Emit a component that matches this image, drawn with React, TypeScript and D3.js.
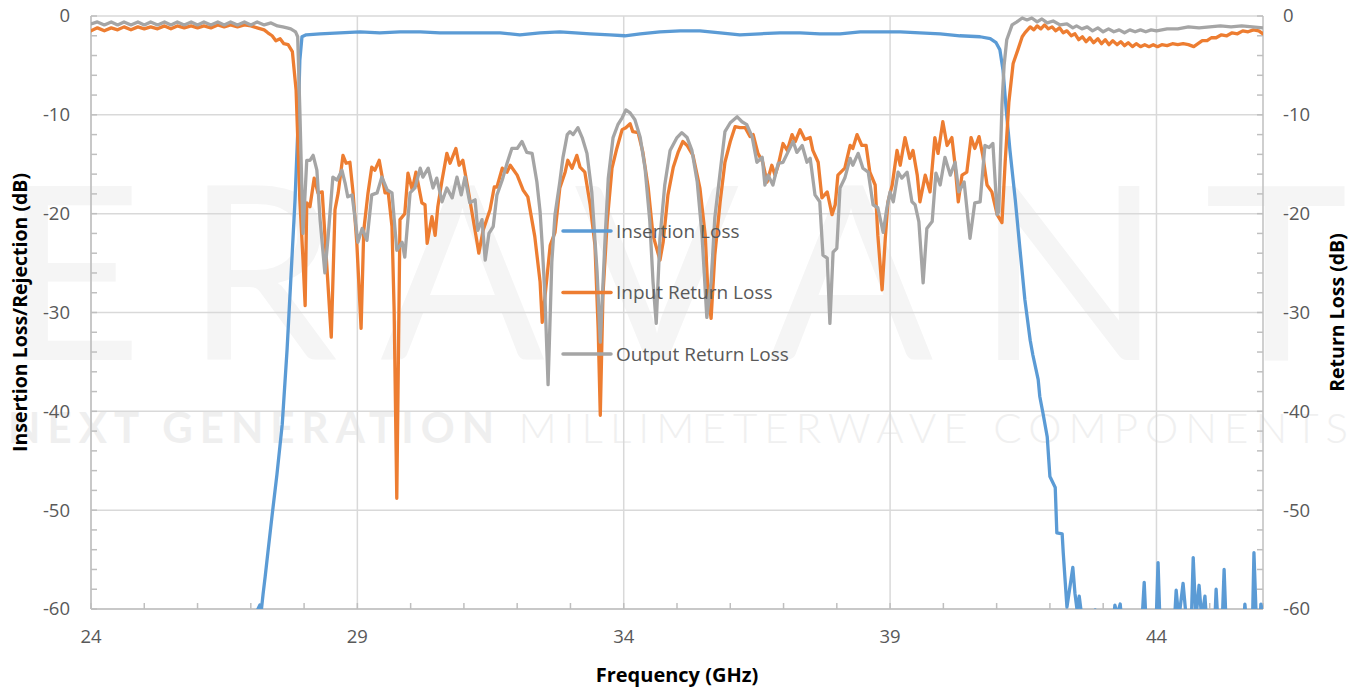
import React from "react";
import * as d3 from "d3";

// frequency (GHz), dB
const insertionLoss: [number, number][] = [
  [27.08, -60.6], [27.17, -59.6], [27.19, -60.5], [27.23, -58.5], [27.27, -56.7], [27.32, -54.3],
  [27.4, -50.5], [27.49, -46.4], [27.59, -41.3], [27.68, -33.8], [27.77, -24.7], [27.83, -18.6],
  [27.89, -10.5], [27.92, -4.5], [27.96, -2.1], [28.04, -1.9], [28.3, -1.8], [28.67, -1.7],
  [29.05, -1.6], [29.42, -1.7], [29.8, -1.6], [30.18, -1.6], [30.55, -1.7], [30.93, -1.7],
  [31.3, -1.7], [31.68, -1.7], [32.05, -1.9], [32.43, -1.7], [32.8, -1.6], [33.09, -1.7],
  [33.37, -1.8], [33.74, -1.9], [34.02, -2.0], [34.31, -1.8], [34.68, -1.6], [35.06, -1.5],
  [35.43, -1.5], [35.81, -1.7], [36.18, -1.9], [36.56, -1.8], [36.93, -1.7], [37.31, -1.7],
  [37.68, -1.8], [38.06, -1.8], [38.44, -1.6], [38.81, -1.6], [39.19, -1.6], [39.56, -1.7],
  [39.94, -1.8], [40.31, -2.0], [40.69, -2.1], [40.88, -2.3], [40.99, -2.7], [41.06, -3.4],
  [41.12, -5.5], [41.18, -9.5], [41.25, -13.6], [41.35, -18.6], [41.44, -23.7], [41.53, -28.7],
  [41.63, -32.8], [41.68, -34.3], [41.78, -36.8], [41.81, -38.5], [41.87, -40.2], [41.95, -42.6],
  [42.0, -46.6], [42.1, -47.7], [42.13, -52.3], [42.23, -52.4], [42.25, -54.3], [42.32, -59.8],
  [42.43, -55.8], [42.47, -58.4], [42.51, -60.1], [42.55, -58.7], [42.59, -60.4], [42.66, -62],
  [42.82, -62], [42.85, -60.1], [42.88, -62], [43.18, -62], [43.22, -59.6], [43.26, -60.6],
  [43.32, -59.5], [43.36, -62], [43.72, -62], [43.77, -57.3], [43.81, -62], [43.99, -62],
  [44.03, -55.3], [44.07, -62], [44.33, -62], [44.37, -58.1], [44.42, -61], [44.5, -57.4],
  [44.56, -61], [44.65, -62], [44.69, -54.8], [44.74, -61], [44.8, -57.6], [44.85, -61],
  [44.91, -58.7], [44.95, -62], [45.09, -62], [45.12, -58.0], [45.16, -62], [45.23, -62],
  [45.27, -56.0], [45.31, -62], [45.5, -62], [45.53, -60.2], [45.56, -62], [45.63, -62],
  [45.66, -59.5], [45.7, -62], [45.8, -62], [45.83, -54.3], [45.88, -62], [45.94, -62],
  [45.96, -59.5], [46.0, -60.5],
];

const inputReturnLoss: [number, number][] = [
  [24.0, -1.5], [24.12, -1.2], [24.25, -1.5], [24.38, -1.2], [24.5, -1.4], [24.62, -1.1],
  [24.75, -1.4], [24.88, -1.1], [25.0, -1.3], [25.12, -1.1], [25.25, -1.3], [25.38, -1.0],
  [25.5, -1.3], [25.62, -1.0], [25.75, -1.2], [25.88, -1.0], [26.0, -1.2], [26.12, -1.0],
  [26.25, -1.2], [26.38, -0.9], [26.5, -1.1], [26.62, -0.9], [26.75, -1.1], [26.88, -0.9],
  [27.0, -1.0], [27.12, -1.2], [27.25, -1.4], [27.32, -1.7], [27.4, -2.0], [27.47, -2.5],
  [27.55, -2.3], [27.62, -2.8], [27.7, -2.9], [27.78, -3.6], [27.85, -7.5], [27.92, -18.6],
  [27.98, -24.7], [28.02, -29.3], [28.05, -18.9], [28.11, -19.3], [28.19, -16.4], [28.26, -17.9],
  [28.34, -17.8], [28.51, -32.5], [28.58, -19.6], [28.64, -17.9], [28.73, -14.1], [28.79, -14.9],
  [28.86, -14.8], [28.92, -17.9], [28.99, -23.0], [29.07, -31.6], [29.12, -21.7], [29.2, -17.9],
  [29.27, -15.3], [29.33, -15.6], [29.41, -14.6], [29.52, -17.9], [29.58, -17.9], [29.65, -21.3],
  [29.69, -29.7], [29.74, -48.8], [29.8, -20.6], [29.89, -20.0], [29.95, -15.9], [30.03, -17.6],
  [30.1, -15.8], [30.21, -18.9], [30.27, -19.1], [30.31, -23.0], [30.4, -20.3], [30.46, -22.2],
  [30.51, -19.3], [30.59, -16.6], [30.68, -13.9], [30.74, -14.9], [30.85, -13.4], [30.91, -15.1],
  [30.98, -14.6], [31.08, -17.6], [31.25, -23.0], [31.28, -24.0], [31.36, -21.7], [31.49, -19.6],
  [31.57, -17.3], [31.62, -17.3], [31.72, -15.4], [31.81, -15.8], [31.87, -15.1], [32.0, -16.1],
  [32.11, -17.6], [32.2, -18.3], [32.33, -22.3], [32.43, -26.9], [32.47, -31.0], [32.52, -28.5],
  [32.62, -23.2], [32.71, -21.9], [32.8, -17.4], [32.9, -15.8], [32.95, -14.6], [33.03, -15.4],
  [33.12, -14.1], [33.18, -15.3], [33.27, -15.8], [33.37, -19.1], [33.46, -23.2], [33.52, -31.6],
  [33.56, -40.4], [33.61, -28.2], [33.69, -20.8], [33.78, -15.4], [33.87, -13.4], [33.97, -11.5],
  [34.04, -11.3], [34.12, -10.9], [34.17, -11.7], [34.27, -11.8], [34.36, -13.8], [34.46, -17.4],
  [34.55, -22.2], [34.68, -24.7], [34.74, -22.9], [34.83, -18.1], [34.93, -15.3], [35.02, -13.8],
  [35.11, -12.7], [35.19, -13.1], [35.3, -14.1], [35.43, -17.4], [35.53, -22.2], [35.58, -27.9],
  [35.64, -30.6], [35.71, -24.2], [35.81, -18.8], [35.9, -14.8], [36.0, -12.7], [36.09, -11.2],
  [36.18, -11.3], [36.28, -11.3], [36.37, -12.2], [36.43, -12.0], [36.52, -13.9], [36.61, -14.8],
  [36.69, -16.8], [36.78, -15.1], [36.84, -16.1], [36.9, -15.1], [36.99, -12.9], [37.07, -13.6],
  [37.16, -12.0], [37.22, -12.7], [37.31, -11.5], [37.4, -12.5], [37.5, -12.3], [37.55, -13.6],
  [37.65, -14.8], [37.72, -18.4], [37.82, -17.8], [37.91, -20.1], [37.97, -19.1], [38.02, -16.1],
  [38.15, -15.4], [38.25, -13.1], [38.3, -13.4], [38.38, -12.0], [38.47, -13.1], [38.55, -13.1],
  [38.62, -15.8], [38.72, -17.1], [38.77, -22.2], [38.85, -27.7], [38.91, -22.5], [38.96, -18.8],
  [39.04, -17.1], [39.13, -13.6], [39.19, -15.1], [39.28, -12.3], [39.37, -14.4], [39.43, -13.6],
  [39.51, -16.1], [39.56, -18.8], [39.66, -16.1], [39.75, -17.8], [39.84, -12.3], [39.9, -13.9],
  [39.99, -10.7], [40.07, -13.1], [40.16, -12.3], [40.22, -15.1], [40.28, -18.8], [40.35, -16.1],
  [40.44, -15.8], [40.52, -12.3], [40.59, -13.4], [40.67, -12.2], [40.74, -14.1], [40.82, -17.1],
  [40.91, -17.8], [41.01, -20.1], [41.1, -20.9], [41.16, -14.8], [41.23, -8.7], [41.31, -4.8],
  [41.4, -3.4], [41.48, -2.1], [41.53, -1.7], [41.63, -1.1], [41.7, -1.4], [41.76, -1.0],
  [41.83, -1.3], [41.9, -0.9], [41.97, -1.3], [42.04, -1.1], [42.11, -1.5], [42.18, -1.2],
  [42.25, -1.7], [42.32, -1.5], [42.4, -2.0], [42.47, -1.8], [42.54, -2.4], [42.61, -2.1],
  [42.68, -2.6], [42.75, -2.2], [42.82, -2.7], [42.9, -2.3], [42.97, -2.8], [43.04, -2.4],
  [43.11, -2.9], [43.18, -2.5], [43.26, -2.9], [43.33, -2.6], [43.4, -3.0], [43.47, -2.7],
  [43.55, -3.1], [43.62, -2.8], [43.7, -3.1], [43.78, -2.9], [43.86, -3.1], [43.94, -2.9],
  [44.02, -3.1], [44.1, -2.9], [44.2, -3.0], [44.3, -2.8], [44.4, -2.9], [44.5, -2.8],
  [44.6, -2.9], [44.7, -3.1], [44.78, -2.8], [44.86, -2.5], [44.95, -2.5], [45.03, -2.2],
  [45.12, -2.2], [45.22, -1.9], [45.32, -2.0], [45.42, -1.7], [45.52, -1.8], [45.62, -1.5],
  [45.72, -1.6], [45.82, -1.4], [45.92, -1.5], [46.0, -1.8],
];

const outputReturnLoss: [number, number][] = [
  [24.0, -0.8], [24.12, -0.6], [24.25, -0.9], [24.38, -0.6], [24.5, -0.9], [24.62, -0.6],
  [24.75, -0.9], [24.88, -0.6], [25.0, -0.9], [25.12, -0.6], [25.25, -0.9], [25.38, -0.6],
  [25.5, -0.9], [25.62, -0.6], [25.75, -0.9], [25.88, -0.6], [26.0, -0.9], [26.12, -0.6],
  [26.25, -0.9], [26.38, -0.6], [26.5, -0.9], [26.62, -0.6], [26.75, -0.9], [26.88, -0.6],
  [27.0, -0.9], [27.12, -0.6], [27.25, -0.9], [27.38, -0.7], [27.5, -1.0], [27.6, -1.1],
  [27.68, -1.2], [27.75, -1.3], [27.84, -1.6], [27.88, -2.1], [27.92, -9.5], [27.98, -22.0],
  [28.05, -14.6], [28.11, -14.6], [28.17, -14.1], [28.24, -15.6], [28.3, -20.6], [28.39, -26.0],
  [28.45, -22.4], [28.54, -16.3], [28.62, -16.6], [28.71, -15.6], [28.77, -16.9], [28.82, -18.3],
  [28.9, -18.1], [28.96, -20.6], [29.01, -22.9], [29.09, -21.5], [29.18, -22.7], [29.27, -18.1],
  [29.37, -17.9], [29.46, -16.3], [29.56, -17.6], [29.65, -17.9], [29.74, -23.7], [29.84, -22.9],
  [29.89, -24.4], [29.99, -17.9], [30.08, -17.4], [30.18, -15.4], [30.23, -16.3], [30.33, -15.4],
  [30.42, -17.4], [30.49, -16.4], [30.59, -18.8], [30.68, -17.4], [30.78, -18.4], [30.87, -16.3],
  [30.95, -18.1], [31.02, -16.3], [31.11, -18.9], [31.21, -18.6], [31.26, -21.7], [31.34, -20.6],
  [31.4, -24.7], [31.47, -22.0], [31.55, -21.3], [31.62, -18.1], [31.72, -16.6], [31.81, -14.9],
  [31.9, -13.4], [32.0, -13.4], [32.09, -12.7], [32.18, -13.8], [32.28, -13.9], [32.37, -16.8],
  [32.43, -19.8], [32.47, -23.2], [32.52, -28.2], [32.58, -37.3], [32.65, -24.9], [32.71, -20.1],
  [32.8, -16.8], [32.86, -14.3], [32.94, -12.0], [32.99, -11.7], [33.05, -12.0], [33.14, -11.3],
  [33.22, -12.3], [33.31, -13.9], [33.4, -17.8], [33.5, -25.9], [33.56, -33.0], [33.65, -22.5],
  [33.71, -16.4], [33.8, -12.3], [33.89, -11.0], [33.97, -10.3], [34.04, -9.5], [34.12, -9.8],
  [34.21, -10.5], [34.31, -12.3], [34.4, -15.4], [34.49, -20.8], [34.55, -26.9], [34.61, -31.1],
  [34.68, -22.5], [34.77, -17.1], [34.87, -13.6], [35.0, -12.3], [35.09, -11.8], [35.19, -12.3],
  [35.28, -13.6], [35.38, -16.8], [35.47, -22.2], [35.56, -30.5], [35.64, -26.9], [35.71, -20.4],
  [35.81, -15.8], [35.9, -11.7], [36.0, -10.8], [36.13, -10.2], [36.22, -10.7], [36.31, -11.0],
  [36.41, -12.2], [36.5, -14.8], [36.6, -14.3], [36.65, -17.1], [36.71, -16.1], [36.8, -17.1],
  [36.9, -14.9], [36.99, -14.8], [37.08, -13.8], [37.18, -12.7], [37.25, -13.8], [37.35, -13.1],
  [37.44, -14.8], [37.5, -14.4], [37.59, -18.1], [37.68, -18.8], [37.74, -24.2], [37.82, -24.5],
  [37.87, -31.1], [37.93, -23.9], [38.0, -23.5], [38.06, -17.4], [38.15, -16.4], [38.25, -14.4],
  [38.3, -15.1], [38.4, -13.9], [38.49, -15.4], [38.59, -15.8], [38.68, -19.1], [38.77, -19.4],
  [38.87, -21.9], [38.94, -19.4], [39.0, -17.8], [39.06, -18.8], [39.15, -15.8], [39.22, -16.4],
  [39.32, -15.8], [39.41, -18.8], [39.47, -19.1], [39.54, -20.8], [39.62, -27.0], [39.69, -21.5],
  [39.79, -20.8], [39.86, -15.9], [39.94, -17.1], [40.03, -14.3], [40.13, -16.1], [40.22, -14.8],
  [40.29, -17.8], [40.39, -16.8], [40.5, -22.5], [40.59, -18.9], [40.69, -18.8], [40.78, -13.1],
  [40.86, -13.3], [40.93, -12.9], [41.01, -20.1], [41.04, -19.8], [41.1, -9.0], [41.14, -5.0],
  [41.19, -2.4], [41.29, -0.9], [41.38, -0.6], [41.48, -0.2], [41.57, -0.4], [41.66, -0.2],
  [41.76, -0.6], [41.85, -0.3], [41.95, -0.7], [42.06, -0.5], [42.19, -0.9], [42.32, -0.8],
  [42.43, -1.2], [42.5, -1.0], [42.6, -1.3], [42.7, -1.1], [42.8, -1.5], [42.9, -1.2],
  [43.0, -1.6], [43.1, -1.3], [43.2, -1.6], [43.3, -1.4], [43.4, -1.7], [43.5, -1.4],
  [43.6, -1.6], [43.7, -1.4], [43.8, -1.6], [43.9, -1.4], [44.0, -1.5], [44.2, -1.3],
  [44.4, -1.3], [44.6, -1.1], [44.8, -1.2], [45.0, -1.1], [45.2, -1.0], [45.4, -1.1],
  [45.6, -1.0], [45.8, -1.1], [46.0, -1.2],
];

const seriesNames = ["Insertion Loss", "Input Return Loss", "Output Return Loss"];
const seriesColors = ["#5b9bd5", "#ed7d31", "#a5a5a5"];
const xTicks = [24, 29, 34, 39, 44];
const yTicks = [0, -10, -20, -30, -40, -50, -60];

const W = 1363;
const H = 690;
const left = 91;
const right = 1263;
const top = 16;
const bottom = 609;
const font = "'Open Sans', sans-serif";
const textColor = "#595959";

export default function App() {
  const x = d3.scaleLinear().domain([24, 46]).range([left, right]);
  const y = d3.scaleLinear().domain([-60, 0]).range([bottom, top]);
  const line = d3.line<[number, number]>().x(d => x(d[0])).y(d => y(d[1]));
  const allSeries = [insertionLoss, inputReturnLoss, outputReturnLoss];
  const minorX = d3.range(24, 47, 1);
  const minorY = d3.range(-60, 1, 2);

  return (
    <svg width={W} height={H} style={{ position: "absolute", left: 0, top: 0, background: "#fff" }}>
      <defs>
        <clipPath id="plot">
          <rect x={left} y={top - 4} width={right - left} height={bottom - top + 4} />
        </clipPath>
      </defs>
      {/* watermark */}
      <text x={2} y={360} textLength={1346} lengthAdjust="spacing" fontFamily="Lato, sans-serif"
        fontSize={243} fill="#f5f5f5">ERAVANT</text>
      <text x={8} y={443} textLength={1340} lengthAdjust="spacing" fontFamily="Lato, sans-serif" fontSize={42}>
        <tspan fill="#efefef" fontWeight={700}>NEXT GENERATION </tspan>
        <tspan fill="#f0f0f0" fontWeight={300}>MILLIMETERWAVE COMPONENTS</tspan>
      </text>

      {/* grid */}
      {yTicks.map(t => (
        <line key={"gy" + t} x1={left} x2={right} y1={y(t)} y2={y(t)} stroke="#d9d9d9" strokeWidth={1.5} />
      ))}
      {xTicks.map(t => (
        <line key={"gx" + t} x1={x(t)} x2={x(t)} y1={top} y2={bottom} stroke="#d9d9d9" strokeWidth={1.5} />
      ))}

      {/* axes */}
      <line x1={left} x2={left} y1={top} y2={bottom} stroke="#bfbfbf" strokeWidth={1.5} />
      <line x1={right} x2={right} y1={top} y2={bottom} stroke="#bfbfbf" strokeWidth={1.5} />
      <line x1={left} x2={right} y1={bottom} y2={bottom} stroke="#bfbfbf" strokeWidth={1.5} />
      {minorY.map(t => (
        <g key={"my" + t}>
          <line x1={left} x2={left + 6} y1={y(t)} y2={y(t)} stroke="#bfbfbf" strokeWidth={1.5} />
          <line x1={right - 6} x2={right} y1={y(t)} y2={y(t)} stroke="#bfbfbf" strokeWidth={1.5} />
        </g>
      ))}
      {minorX.map(t => (
        <line key={"mx" + t} x1={x(t)} x2={x(t)} y1={bottom - 6} y2={bottom} stroke="#bfbfbf" strokeWidth={1.5} />
      ))}

      {/* tick labels */}
      {yTicks.map(t => (
        <g key={"ly" + t} fontFamily={font} fontSize={18.5} fill={textColor}>
          <text x={70} y={y(t)} dy="0.35em" textAnchor="end">{t}</text>
          <text x={1283} y={y(t)} dy="0.35em">{t}</text>
        </g>
      ))}
      {xTicks.map(t => (
        <text key={"lx" + t} x={x(t)} y={643} textAnchor="middle" fontFamily={font} fontSize={18.5} fill={textColor}>{t}</text>
      ))}

      {/* series */}
      <g clipPath="url(#plot)">
        {allSeries.map((s, i) => (
          <path key={i} d={line(s) || ""} fill="none" stroke={seriesColors[i]} strokeWidth={3.3}
            strokeLinejoin="round" strokeLinecap="round" />
        ))}
      </g>

      {/* legend */}
      {seriesNames.map((n, i) => (
        <g key={n} transform={`translate(563,${231 + i * 61.5})`}>
          <line x1={0} x2={48} y1={0} y2={0} stroke={seriesColors[i]} strokeWidth={3.5} strokeLinecap="round" />
          <text x={53} y={0} dy="0.35em" fontFamily={font} fontSize={19} fill={textColor}>{n}</text>
        </g>
      ))}

      {/* axis titles */}
      <text x={677} y={682} textAnchor="middle" fontFamily={font} fontSize={20} fontWeight={700} fill="#000">Frequency (GHz)</text>
      <text transform={`translate(27,${(top + bottom) / 2}) rotate(-90)`} textAnchor="middle" fontFamily={font}
        fontSize={19.5} fontWeight={700} fill="#000">Insertion Loss/Rejection (dB)</text>
      <text transform={`translate(1344,${(top + bottom) / 2}) rotate(-90)`} textAnchor="middle" fontFamily={font}
        fontSize={19.5} fontWeight={700} fill="#000">Return Loss (dB)</text>
    </svg>
  );
}
